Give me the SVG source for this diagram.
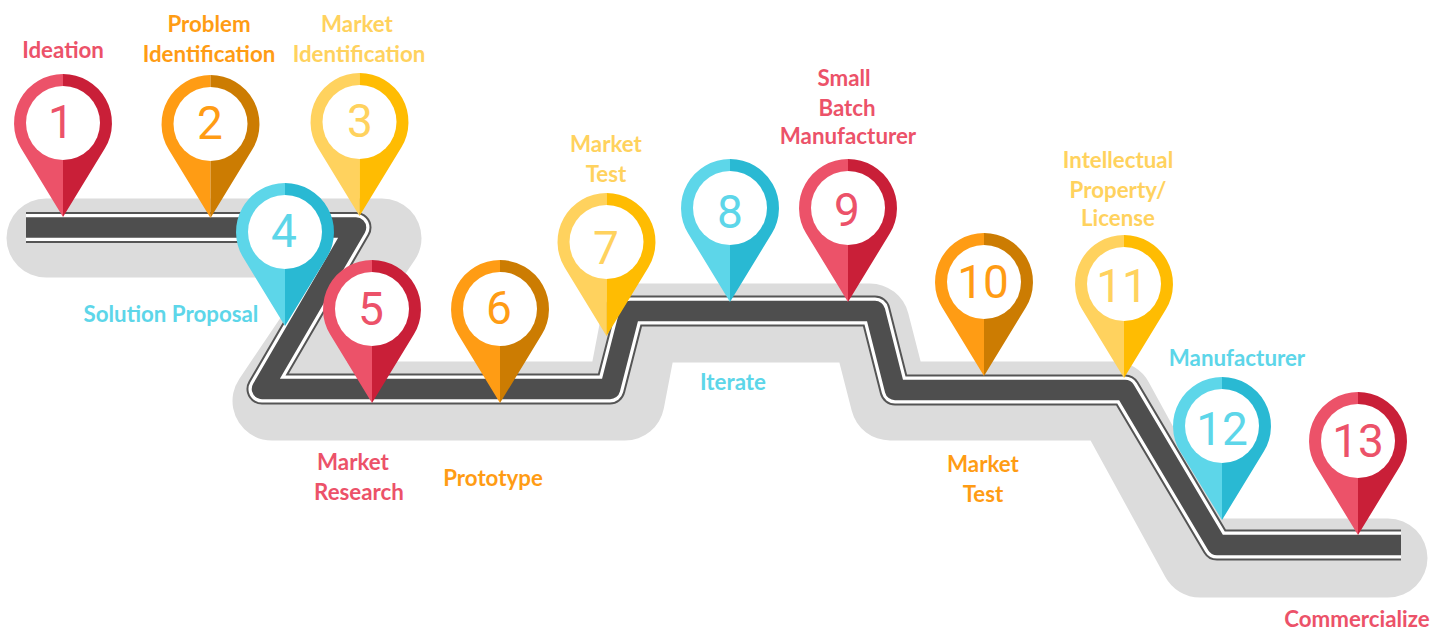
<svg xmlns="http://www.w3.org/2000/svg" width="1445" height="633" viewBox="0 0 1445 633">
<style>
text{font-family:"Lato","Liberation Sans",sans-serif;font-weight:700;font-size:22.3px;text-anchor:middle}
.num{font-family:"Roboto","Liberation Sans",sans-serif;font-weight:400;font-size:46px}
.pink{fill:#EC5269;color:#C91F38}.orange{fill:#FF9C14;color:#CC7C02}.yellow{fill:#FFD25E;color:#FFBC02}.cyan{fill:#5DD6E9;color:#29B9D3}
.hole{fill:#fff}
.road{fill:none;stroke-linejoin:round}
</style>
<defs>
<path id="pl" d="M0 0L-41.8 -68.500A49 49 0 0 1 0 -143Z"/>
<path id="pr" fill="currentColor" d="M0 0L41.8 -68.500A49 49 0 0 0 0 -143Z"/>
<g id="pin"><use href="#pl"/><use href="#pr"/><circle class="hole" cx="0" cy="-94" r="37"/></g>
</defs>
<rect width="1445" height="633" fill="#fff"/>
<g id="connectors">
<path class="road" stroke="#dcdcdc" stroke-width="79" stroke-linecap="round" d="M46 238H382L272 401H625L640 323H870L890 401H1114L1200 558H1388"/>
<g id="road">
<path class="road" stroke="#555" stroke-width="31" d="M26 227.500H356L262 389H610L630 311H875L895 390H1125L1217 545H1401"/>
<path class="road" stroke="#fff" stroke-width="27" d="M26 227.500H356L262 389H610L630 311H875L895 390H1125L1217 545H1401"/>
<path class="road" stroke="#4e4e4e" stroke-width="20.500" d="M26 227.500H356L262 389H610L630 311H875L895 390H1125L1217 545H1401"/>
</g>
</g>
<g id="n1" class="pink"><use href="#pin" x="63" y="217"/><text x="61" y="138" class="num">1</text><text x="63" y="58">Ideation</text></g>
<g id="n2" class="orange"><use href="#pin" x="210.500" y="218"/><text x="210" y="139" class="num">2</text><text x="209" y="32">Problem</text><text x="209" y="62">Identification</text></g>
<g id="n3" class="yellow"><use href="#pin" x="359.500" y="216"/><text x="360" y="137" class="num">3</text><text x="357" y="32">Market</text><text x="359" y="62">Identification</text></g>
<g id="n4" class="cyan"><use href="#pin" x="285" y="326"/><text x="284" y="247" class="num">4</text><text x="171" y="322">Solution Proposal</text></g>
<g id="n5" class="pink"><use href="#pin" x="372" y="403"/><text x="371" y="325" class="num">5</text><text x="353" y="470">Market</text><text x="359" y="500">Research</text></g>
<g id="n6" class="orange"><use href="#pin" x="500" y="403"/><text x="499" y="324" class="num">6</text><text x="493" y="486">Prototype</text></g>
<g id="n7" class="yellow"><use href="#pin" x="606.500" y="336"/><text x="606" y="264" class="num">7</text><text x="606" y="152">Market</text><text x="606" y="182">Test</text></g>
<g id="n8" class="cyan"><use href="#pin" x="730" y="302"/><text x="730" y="228" class="num">8</text><text x="733" y="390">Iterate</text></g>
<g id="n9" class="pink"><use href="#pin" x="848" y="302"/><text x="847" y="226" class="num">9</text><text x="844" y="86">Small</text><text x="847" y="116">Batch</text><text x="848" y="144">Manufacturer</text></g>
<g id="n10" class="orange"><use href="#pin" x="984" y="376"/><text x="983" y="298" class="num">10</text><text x="983" y="472">Market</text><text x="983" y="502">Test</text></g>
<g id="n11" class="yellow"><use href="#pin" x="1124" y="378"/><text x="1122" y="302" class="num">11</text><text x="1118" y="168">Intellectual</text><text x="1118" y="198">Property/</text><text x="1118" y="226">License</text></g>
<g id="n12" class="cyan"><use href="#pin" x="1222" y="520"/><text x="1222" y="445" class="num">12</text><text x="1237" y="366">Manufacturer</text></g>
<g id="n13" class="pink"><use href="#pin" x="1358" y="535"/><text x="1358" y="457" class="num">13</text><text x="1357" y="627">Commercialize</text></g>
</svg>
